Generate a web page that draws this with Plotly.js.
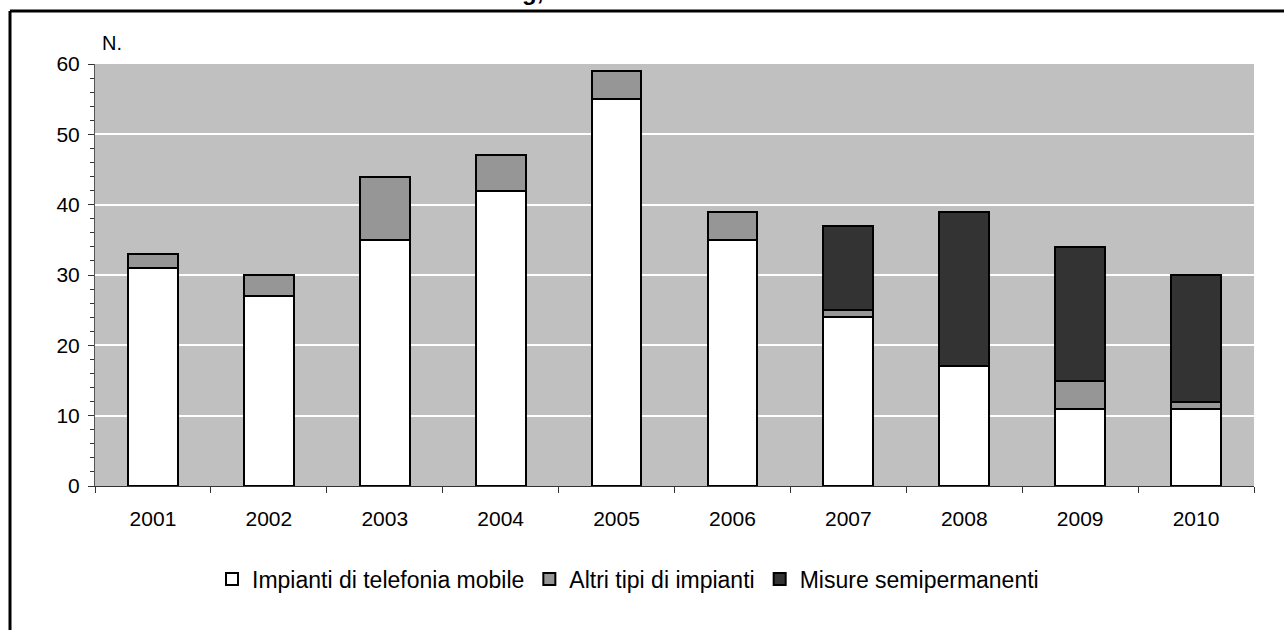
<!DOCTYPE html>
<html>
<head>
<meta charset="utf-8">
<script src="https://cdn.plot.ly/plotly-3.0.1.min.js"></script>
<style>
html,body{margin:0;padding:0;background:#fff;}
#chart{width:1284px;height:630px;}
</style>
</head>
<body>
<div id="chart"></div>
<script>
const years = ["2001","2002","2003","2004","2005","2006","2007","2008","2009","2010"];
const telefoniaMobile = [31, 27, 35, 42, 55, 35, 24, 17, 11, 11];
const altriImpianti = [2, 3, 9, 5, 4, 4, 1, 0, 4, 1];
const misureSemipermanenti = [0, 0, 0, 0, 0, 0, 12, 22, 19, 18];
const seriesNames = ["Impianti di telefonia mobile", "Altri tipi di impianti", "Misure semipermanenti"];
const yTicks = [0, 10, 20, 30, 40, 50, 60];

const FONT = "Liberation Sans, Arial, sans-serif";
const line = {color: "#000000", width: 2};

const traces = [
  {type: "bar", name: seriesNames[0], x: years, y: telefoniaMobile,
   marker: {color: "#FFFFFF", line: line}},
  {type: "bar", name: seriesNames[1], x: years, y: altriImpianti,
   marker: {color: "#969696", line: line}},
  {type: "bar", name: seriesNames[2], x: years, y: misureSemipermanenti,
   marker: {color: "#333333", line: line}}
];

const layout = {
  width: 1284, height: 630,
  margin: {l: 95, r: 30, t: 64, b: 144},
  paper_bgcolor: "#FFFFFF",
  plot_bgcolor: "#C0C0C0",
  barmode: "stack",
  bargap: 0.57,
  font: {family: FONT, size: 20, color: "#000"},
  showlegend: true,
  legend: {orientation: "h", x: (628 - 95) / 1159, xanchor: "center", y: (486 - 579) / 422, yanchor: "middle",
           font: {family: FONT, size: 23, color: "#000"}, traceorder: "normal",
           itemclick: false},
  xaxis: {type: "category", tickson: "boundaries", ticks: "outside", ticklen: 6,
          tickcolor: "#333", showline: true, linecolor: "#333", linewidth: 1,
          showgrid: false, ticklabelstandoff: 14,
          tickfont: {family: FONT, size: 21, color: "#000"}},
  yaxis: {range: [0, 60], tickvals: yTicks, ticks: "outside", ticklen: 6,
          tickcolor: "#333", showline: true, linecolor: "#555", linewidth: 1,
          gridcolor: "#FFFFFF", gridwidth: 2, zeroline: false, ticklabelstandoff: 4,
          minor: {dtick: 2, ticks: "outside", ticklen: 4, tickcolor: "#333", showgrid: false},
          tickfont: {family: FONT, size: 21, color: "#000"}},
  annotations: [
    {text: "N.", xref: "paper", yref: "paper", x: 0.004, y: 1.05, xanchor: "left", yanchor: "middle",
     showarrow: false, font: {family: FONT, size: 20, color: "#000"}},
    {text: "<b>g,</b>", xref: "paper", yref: "paper", x: (532 - 95) / 1159, y: (486 - 7) / 422,
     xanchor: "center", yanchor: "bottom", showarrow: false,
     font: {family: FONT, size: 24, color: "#000"}}
  ],
  shapes: [
    {type: "line", xref: "paper", yref: "paper", x0: (10 - 95) / 1159, x1: (1290 - 95) / 1159,
     y0: (486 - 11) / 422, y1: (486 - 11) / 422, line: {color: "#000", width: 3}},
    {type: "line", xref: "paper", yref: "paper", x0: (10 - 95) / 1159, x1: (10 - 95) / 1159,
     y0: (486 - 11) / 422, y1: (486 - 640) / 422, line: {color: "#000", width: 3}}
  ]
};

Plotly.newPlot("chart", traces, layout, {displayModeBar: false, staticPlot: true});
</script>
</body>
</html>
